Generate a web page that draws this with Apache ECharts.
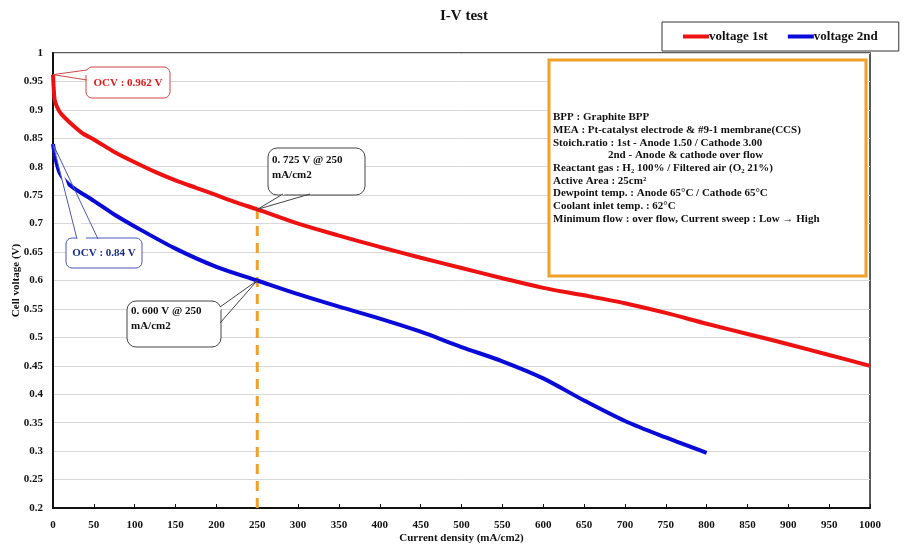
<!DOCTYPE html>
<html><head><meta charset="utf-8">
<script src="https://cdn.jsdelivr.net/npm/echarts@6/dist/echarts.min.js"></script>
<style>html,body{margin:0;padding:0;background:#fff}#c{width:906px;height:553px}</style>
</head><body><div id="c"></div>
<script>
// ---- data ----
const seriesNames = ['voltage 1st', 'voltage 2nd'];
const current1st = [0, 1, 2, 5, 10, 25, 37, 50, 75, 100, 125, 150, 175, 200, 225, 250, 300, 350, 400, 450, 500, 550, 600, 650, 700, 750, 800, 850, 900, 950, 1000];
const voltage1st = [0.962, 0.935, 0.918, 0.905, 0.893, 0.872, 0.858, 0.848, 0.826, 0.808, 0.791, 0.776, 0.763, 0.750, 0.737, 0.725, 0.700, 0.679, 0.659, 0.640, 0.622, 0.604, 0.587, 0.574, 0.560, 0.543, 0.524, 0.506, 0.488, 0.469, 0.450];
const current2nd = [0, 3, 8, 15, 25, 50, 75, 100, 150, 200, 250, 300, 350, 400, 450, 500, 550, 600, 650, 700, 750, 800];
const voltage2nd = [0.840, 0.815, 0.790, 0.775, 0.763, 0.740, 0.716, 0.695, 0.656, 0.624, 0.600, 0.576, 0.554, 0.533, 0.510, 0.483, 0.458, 0.428, 0.389, 0.353, 0.324, 0.297];
const markerCurrent = 250;
const markerV1 = 0.725, markerV2 = 0.600;
const ocv1 = 0.962, ocv2 = 0.84;
const xTicks = {min: 0, max: 1000, step: 50};
const yTicks = {min: 0.2, max: 1, step: 0.05};
const infoLines = [
  'BPP : Graphite BPP',
  'MEA : Pt-catalyst electrode & #9-1 membrane(CCS)',
  'Stoich.ratio : 1st - Anode 1.50 / Cathode 3.00',
  '                    2nd - Anode & cathode over flow',
  'Reactant gas : H\u2082 100% / Filtered air (O\u2082 21%)',
  'Active Area : 25cm\u00b2',
  'Dewpoint temp. : Anode 65\u00b0C / Cathode 65\u00b0C',
  'Coolant inlet temp. : 62\u00b0C',
  'Minimum flow : over flow, Current sweep : Low \u2192 High'
];

const FONT = '"Liberation Serif", "Times New Roman", serif';
const RED = '#ee1111', BLUE = '#0a0ad8', ORANGE = '#f0a028';
const pair = (xs, ys) => xs.map((x, i) => [x, ys[i]]);

const chart = echarts.init(document.getElementById('c'), null, {renderer: 'canvas'});
chart.setOption({
  animation: false,
  backgroundColor: '#fff',
  title: {text: 'I-V test', left: 435, top: 4,
    textStyle: {fontFamily: FONT, fontWeight: 'bold', fontSize: 15, color: '#111'}},
  legend: {
    data: seriesNames, left: 662, top: 22, padding: [8, 21, 8, 21],
    borderColor: '#333', borderWidth: 1, itemWidth: 26, itemHeight: 4, itemGap: 20,
    icon: 'rect',
    textStyle: {fontFamily: FONT, fontWeight: 'bold', fontSize: 13, color: '#111', padding: [0, 0, 0, -5]}
  },
  grid: {left: 53, right: 36, top: 53, bottom: 45, show: true, borderColor: '#222', borderWidth: 1.5,
    containLabel: false, outerBoundsMode: 'none'},
  xAxis: {
    type: 'value', min: xTicks.min, max: xTicks.max, interval: xTicks.step,
    name: 'Current density (mA/cm2)', nameLocation: 'middle', nameGap: 25, nameMoveOverlap: false,
    nameTextStyle: {fontFamily: FONT, fontWeight: 'bold', fontSize: 11, color: '#111'},
    axisLine: {lineStyle: {color: '#111', width: 2}},
    axisTick: {inside: true, length: 4, lineStyle: {color: '#111'}},
    axisLabel: {fontFamily: FONT, fontWeight: 'bold', fontSize: 11, color: '#111', margin: 12,
      formatter: v => String(v)},
    splitLine: {show: false}
  },
  yAxis: {
    type: 'value', min: yTicks.min, max: yTicks.max, interval: yTicks.step,
    name: 'Cell voltage (V)', nameLocation: 'middle', nameGap: 31, nameMoveOverlap: false,
    nameTextStyle: {fontFamily: FONT, fontWeight: 'bold', fontSize: 11, color: '#111'},
    axisLine: {show: true, lineStyle: {color: '#111', width: 2}},
    axisTick: {show: false},
    axisLabel: {fontFamily: FONT, fontWeight: 'bold', fontSize: 11, color: '#111', margin: 10,
      formatter: v => String(+v.toFixed(2))},
    splitLine: {lineStyle: {color: '#d8d8d8', width: 1}}
  },
  series: [
    {name: seriesNames[0], type: 'line', data: pair(current1st, voltage1st), smooth: 0.3,
      showSymbol: false, lineStyle: {color: RED, width: 4}, itemStyle: {color: RED}, z: 5},
    {name: seriesNames[1], type: 'line', data: pair(current2nd, voltage2nd), smooth: 0.3,
      showSymbol: false, lineStyle: {color: BLUE, width: 4}, itemStyle: {color: BLUE}, z: 5},
    {name: 'marker', type: 'line', data: [[markerCurrent, yTicks.min], [markerCurrent, markerV1]],
      showSymbol: false, lineStyle: {color: ORANGE, width: 3, type: [10, 7]}, z: 3, silent: true}
  ]
});

const px = (x, y) => chart.convertToPixel({xAxisIndex: 0, yAxisIndex: 0}, [x, y]);

function callout(box, tailBase, tip, lines, opts) {
  const els = [];
  els.push({type: 'rect', shape: {x: box[0], y: box[1], width: box[2], height: box[3], r: opts.r || 6},
    style: {fill: '#fff', stroke: opts.stroke, lineWidth: 1}, z: 20});
  els.push({type: 'polygon', shape: {points: [tip, tailBase[0], tailBase[1], opts.inner]},
    style: {fill: '#fff', stroke: null}, z: 21});
  els.push({type: 'polyline', shape: {points: [tailBase[0], tip, tailBase[1]]},
    style: {stroke: opts.stroke, fill: null, lineWidth: 1}, z: 22});
  els.push({type: 'text', x: opts.tx, y: opts.ty,
    style: {text: lines.join('\n'), fill: opts.color, font: 'bold 11px ' + FONT,
      align: opts.align || 'left', verticalAlign: 'top', lineHeight: 15}, z: 23});
  return els;
}

const p1 = px(0, ocv1), p2 = px(0, ocv2), p3 = px(markerCurrent, markerV1), p4 = px(markerCurrent, markerV2);
const g = [];
// red OCV
g.push(...callout([86, 67, 84, 31], [[87, 70], [87, 80]], p1, ['OCV : 0.962 V'],
  {stroke: '#d04848', color: '#e01818', tx: 128, ty: 76, align: 'center', inner: [92, 75]}));
// blue OCV
g.push(...callout([66, 238, 76, 30], [[77, 239], [98, 239]], p2, ['OCV : 0.84 V'],
  {stroke: '#4a5ab8', color: '#1a2a8a', tx: 104, ty: 246, align: 'center', inner: [88, 244]}));
// 0.725 callout
g.push(...callout([268, 148, 97, 47], [[283, 194], [310, 194]], p3, ['0. 725 V @ 250', 'mA/cm2'],
  {stroke: '#444', color: '#111', tx: 272, ty: 153, r: 9, inner: [296, 188]}));
// 0.600 callout
g.push(...callout([127, 301, 94, 46], [[220, 307], [220, 323]], p4, ['0. 600 V @ 250', 'mA/cm2'],
  {stroke: '#444', color: '#111', tx: 131, ty: 304, r: 9, inner: [214, 315]}));
// info box
g.push({type: 'rect', shape: {x: 549, y: 60, width: 317, height: 216},
  style: {fill: '#fff', stroke: ORANGE, lineWidth: 3}, z: 20});
g.push({type: 'text', x: 553, y: 111,
  style: {text: infoLines.join('\n'), fill: '#111', font: 'bold 11px ' + FONT, lineHeight: 12.7, verticalAlign: 'top'}, z: 21});
chart.setOption({graphic: g});
</script></body></html>
